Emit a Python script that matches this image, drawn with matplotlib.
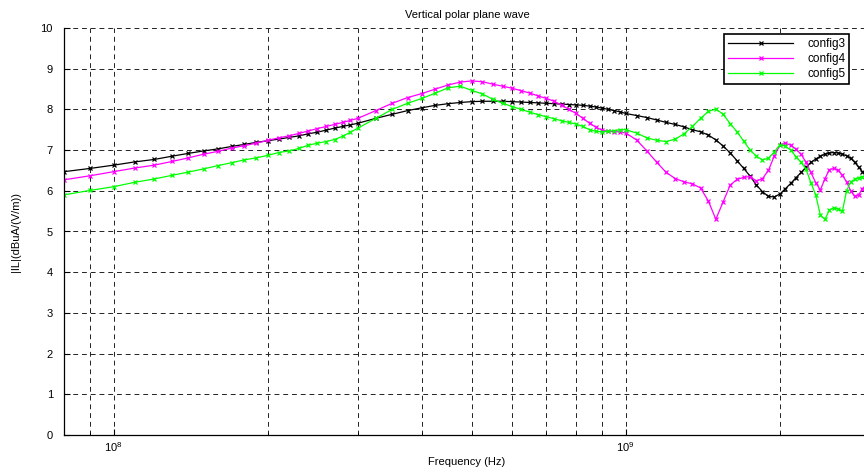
import matplotlib
matplotlib.use("Agg")
import matplotlib.pyplot as plt
from matplotlib.ticker import LogLocator, NullFormatter

plt.rcParams['font.family'] = ['Liberation Sans', 'DejaVu Sans']

# frequency sampling in MHz
freq_low = [80, 90, 100, 110, 120, 130, 140, 150, 160, 170, 180, 190,
            200, 210, 220, 230, 240, 250, 260, 270, 280, 290]
freq_mid = [300, 325, 350, 375, 400, 425, 450, 475, 500, 525, 550, 575,
            600, 625, 650, 675, 700, 725, 750, 775, 800, 825, 850, 875,
            900, 925, 950, 975]
freq_high = [1000, 1050, 1100, 1150, 1200, 1250, 1300, 1350, 1400, 1450,
             1500, 1550, 1600, 1650, 1700, 1750, 1800, 1850, 1900, 1950,
             2000, 2050, 2100, 2150, 2200, 2250, 2300, 2350, 2400, 2450,
             2500, 2550, 2600, 2650, 2700, 2750, 2800, 2850, 2900, 2950, 3000]

config3 = [6.47, 6.55, 6.63, 6.71, 6.77, 6.85, 6.92, 6.98, 7.03, 7.09, 7.14, 7.19,
           7.23, 7.27, 7.31, 7.35, 7.40, 7.44, 7.49, 7.54, 7.58, 7.62,
           7.66, 7.78, 7.88, 7.97, 8.04, 8.10, 8.14, 8.17, 8.19, 8.20, 8.20, 8.20,
           8.19, 8.18, 8.17, 8.16, 8.15, 8.14, 8.13, 8.12, 8.11, 8.10, 8.08, 8.06,
           8.03, 8.00, 7.97, 7.94,
           7.90, 7.85, 7.80, 7.74, 7.68, 7.63, 7.57, 7.50, 7.45, 7.37,
           7.25, 7.10, 6.93, 6.74, 6.55, 6.36, 6.14, 5.98, 5.86, 5.85,
           5.92, 6.05, 6.18, 6.32, 6.45, 6.58, 6.70, 6.78, 6.85, 6.90,
           6.93, 6.94, 6.93, 6.90, 6.86, 6.80, 6.70, 6.58, 6.47, 6.38, 6.32]

config4 = [6.27, 6.37, 6.47, 6.56, 6.63, 6.72, 6.81, 6.90, 6.97, 7.05, 7.11, 7.17,
           7.24, 7.30, 7.35, 7.41, 7.47, 7.53, 7.58, 7.63, 7.68, 7.73,
           7.78, 7.97, 8.15, 8.29, 8.39, 8.50, 8.60, 8.67, 8.70, 8.68, 8.62, 8.57,
           8.52, 8.46, 8.40, 8.33, 8.27, 8.20, 8.10, 8.00, 7.90, 7.78, 7.66, 7.56,
           7.49, 7.46, 7.45, 7.45,
           7.42, 7.25, 6.98, 6.70, 6.45, 6.30, 6.22, 6.17, 6.07, 5.75,
           5.30, 5.73, 6.14, 6.28, 6.33, 6.35, 6.24, 6.30, 6.50, 6.85,
           7.12, 7.17, 7.12, 7.02, 6.90, 6.70, 6.45, 6.20, 6.02, 6.30,
           6.52, 6.55, 6.50, 6.38, 6.22, 6.00, 5.86, 5.90, 6.05, 6.15, 6.20]

config5 = [5.90, 6.01, 6.10, 6.21, 6.29, 6.38, 6.46, 6.54, 6.62, 6.69, 6.76, 6.81,
           6.87, 6.94, 6.98, 7.04, 7.12, 7.17, 7.21, 7.26, 7.34, 7.44,
           7.54, 7.78, 8.00, 8.15, 8.27, 8.40, 8.53, 8.57, 8.47, 8.38, 8.25, 8.15,
           8.07, 8.00, 7.93, 7.87, 7.82, 7.77, 7.72, 7.68, 7.64, 7.58, 7.50, 7.46,
           7.45, 7.46, 7.48, 7.50,
           7.50, 7.42, 7.30, 7.24, 7.21, 7.27, 7.40, 7.58, 7.78, 7.95,
           8.01, 7.88, 7.65, 7.45, 7.22, 7.00, 6.85, 6.76, 6.80, 6.95,
           7.13, 7.10, 7.00, 6.84, 6.70, 6.53, 6.20, 5.90, 5.40, 5.30,
           5.53, 5.58, 5.55, 5.50, 6.00, 6.22, 6.28, 6.32, 6.35, 6.38, 6.40]

series = [("config3", config3, "black"),
          ("config4", config4, "#ff00ff"),
          ("config5", config5, "#00ff00")]

freqs_hz = [f * 1e6 for f in freq_low + freq_mid + freq_high]

fig = plt.figure(figsize=(8.64, 4.73), dpi=100)
ax = fig.add_axes([64 / 864, 1 - 435 / 473, 806 / 864, 407 / 473])

for name, vals, col in series:
    ax.plot(freqs_hz, vals, color=col, marker='x', markersize=3.5,
            markeredgewidth=0.9, linewidth=0.9, label=name)

ax.set_xscale('log')
ax.set_xlim(80e6, 3e9)
ax.set_ylim(0, 10)
ax.set_yticks(range(0, 11))
ax.xaxis.set_major_locator(LogLocator(base=10))
ax.xaxis.set_minor_locator(LogLocator(base=10, subs=range(2, 10)))
ax.xaxis.set_minor_formatter(NullFormatter())

ax.grid(True, which='both', color='#222222', linestyle=(0, (5, 4)), linewidth=0.7)
ax.set_axisbelow(True)

for side in ('top', 'right'):
    ax.spines[side].set_visible(False)
ax.spines['left'].set_linewidth(0.9)
ax.spines['bottom'].set_linewidth(0.9)
ax.tick_params(which='both', direction='in', labelsize=8)
ax.tick_params(axis='y', pad=8)
ax.tick_params(axis='x', pad=4)
ax.tick_params(which='major', length=4)
ax.tick_params(which='minor', length=2)

ax.set_title("Vertical polar plane wave", fontsize=8, pad=7)
ax.set_xlabel("Frequency (Hz)", fontsize=8, labelpad=2)
ax.set_ylabel("|IL|(dBuA/(V/m))", fontsize=8, labelpad=14)

leg = ax.legend(loc='upper left', bbox_to_anchor=(724 / 864, 1 - 34 / 473),
                bbox_transform=fig.transFigure, fontsize=8.5, numpoints=1,
                handlelength=5.5, handletextpad=1.2, fancybox=False,
                framealpha=1, borderaxespad=0, borderpad=0.35,
                labelspacing=0.25)
leg.get_frame().set_edgecolor('black')
leg.get_frame().set_linewidth(1.2)

fig.savefig("out.png", dpi=100)
plt.close(fig)
